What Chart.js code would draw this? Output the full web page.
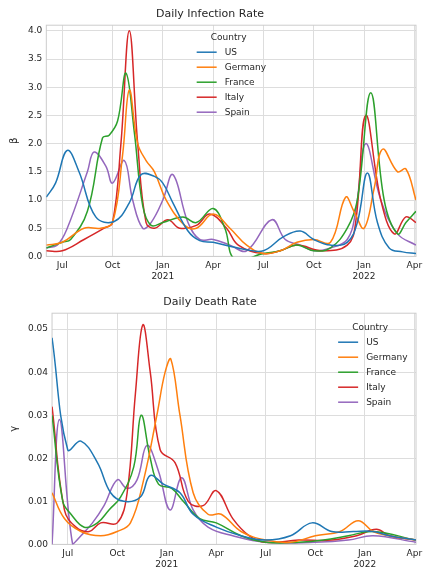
<!DOCTYPE html>
<html><head><meta charset="utf-8">
<script src="https://cdn.jsdelivr.net/npm/chart.js@4/dist/chart.umd.min.js"></script>
<style>body{margin:0;background:#fff}canvas{display:block}</style>
</head><body>
<div style="width:432px;height:288px"><canvas id="c1"></canvas></div>
<div style="width:432px;height:288px"><canvas id="c2"></canvas></div>
<script>
// x in months since Jan 2020 (6 = Jul 2020)
const countries = ['US','Germany','France','Italy','Spain'];
const colors = ['#1f77b4','#ff7f0e','#2ca02c','#d62728','#9467bd'];
const tickLabels = {6:'Jul',9:'Oct',12:['Jan','2021'],15:'Apr',18:'Jul',21:'Oct',24:['Jan','2022'],27:'Apr'};

const betaUS = [[5.05,1.05],[5.6,1.3],[6.3,1.88],[7.0,1.5],[8.0,0.7],[9.1,0.62],[10.0,0.95],[10.7,1.45],[11.5,1.42],[12.0,1.3],[12.6,0.95],[13.5,0.45],[14.2,0.28],[15,0.25],[16,0.18],[17,0.12],[18,0.1],[19.2,0.35],[20.2,0.45],[21,0.3],[22,0.2],[23,0.25],[23.6,0.6],[24.2,1.48],[24.8,0.6],[25.5,0.15],[26.3,0.08],[27.1,0.05]];
const betaDE = [[5.05,0.2],[6,0.25],[7.3,0.5],[8.3,0.5],[9.0,0.6],[9.6,1.8],[10.0,2.95],[10.5,2.0],[11.0,1.7],[11.5,1.5],[12.2,1.0],[13.3,0.55],[14,0.5],[15,0.75],[16,0.5],[17,0.2],[18,0.05],[19,0.1],[20,0.25],[21,0.3],[22,0.25],[22.9,1.05],[23.4,0.8],[24,0.5],[24.6,1.2],[25.1,1.9],[26,1.5],[26.5,1.55],[27.1,1.0]];
const betaFR = [[5.05,0.15],[6,0.25],[6.5,0.3],[7.5,0.8],[8.4,2.1],[8.8,2.15],[9.3,2.4],[9.8,3.25],[10.3,2.2],[10.8,0.9],[11.3,0.55],[12.0,0.6],[13.2,0.7],[14,0.6],[15,0.85],[15.7,0.5],[16.3,-0.05],[18,0.05],[19,0.1],[20,0.2],[21,0.1],[22,0.15],[23,0.5],[23.6,1.0],[24.4,2.9],[25.2,1.0],[26,0.4],[26.5,0.6],[27.1,0.8]];
const betaIT = [[5.05,0.1],[6,0.1],[7.3,0.3],[8.5,0.5],[9.0,0.6],[9.5,2.0],[10.0,4.0],[10.5,2.0],[11.0,0.6],[11.5,0.5],[12.3,0.65],[13,0.5],[14,0.55],[14.8,0.75],[15.8,0.5],[16.5,0.2],[18,0.05],[19,0.1],[20,0.2],[21.5,0.1],[23,0.2],[23.5,0.6],[24.1,2.5],[25,1.0],[25.8,0.4],[26.5,0.7],[27.1,0.6]];
const betaES = [[5.05,0.15],[5.7,0.2],[6.3,0.5],[7.5,1.5],[7.9,1.85],[8.6,1.6],[9.0,1.3],[9.7,1.7],[10.2,1.0],[10.8,0.5],[11.3,0.6],[12.0,1.0],[12.6,1.45],[13.5,0.6],[14.2,0.3],[15,0.3],[16,0.2],[17,0.1],[18.5,0.65],[19.3,0.3],[20.2,0.2],[21,0.1],[22,0.15],[23,0.3],[23.5,0.8],[24.1,2.0],[25,1.0],[26,0.4],[27.1,0.2]];

const gammaUS = [[5.05,0.048],[6.0,0.022],[6.8,0.024],[7.8,0.019],[8.6,0.012],[9.4,0.010],[10.4,0.011],[11.0,0.016],[11.8,0.014],[12.8,0.012],[13.6,0.007],[15,0.004],[16.5,0.002],[18,0.001],[19.5,0.002],[20.8,0.005],[22,0.003],[23.3,0.003],[24.5,0.003],[25.5,0.002],[27.1,0.001]];
const gammaDE = [[5.05,0.012],[5.8,0.006],[6.8,0.003],[8,0.002],[9,0.003],[9.8,0.005],[10.6,0.015],[11.4,0.030],[11.9,0.040],[12.25,0.043],[12.8,0.030],[13.6,0.012],[14.5,0.007],[15.3,0.007],[16.5,0.003],[18,0.001],[19.5,0.0005],[21,0.002],[22.5,0.003],[23.6,0.0055],[24.5,0.003],[25.5,0.002],[27.1,0.001]];
const gammaFR = [[5.05,0.030],[5.7,0.010],[6.2,0.007],[7,0.004],[7.8,0.005],[8.5,0.008],[9.2,0.011],[10,0.018],[10.45,0.030],[11.0,0.020],[11.5,0.014],[12.3,0.013],[13,0.010],[14,0.006],[15,0.005],[16.5,0.002],[18,0.0005],[20,0.0005],[21.5,0.001],[23,0.002],[24.5,0.003],[27.1,0.001]];
const gammaIT = [[5.05,0.032],[5.8,0.008],[6.5,0.004],[7.3,0.003],[8,0.005],[9,0.005],[9.6,0.012],[10.1,0.035],[10.55,0.051],[11.0,0.040],[11.6,0.022],[12.5,0.019],[13.3,0.010],[14.2,0.009],[15,0.0125],[16,0.006],[17,0.002],[18,0.0005],[20,0.001],[22,0.001],[23.5,0.002],[24.7,0.0035],[25.5,0.002],[27.1,0.001]];
const gammaES = [[5.05,0.0],[5.5,0.029],[6.3,0.0],[6.8,0.002],[7.5,0.005],[8.2,0.009],[9.0,0.015],[9.6,0.013],[10.2,0.015],[10.8,0.023],[11.5,0.017],[12.2,0.008],[12.9,0.0155],[13.6,0.008],[14.5,0.004],[16,0.002],[18,0.0005],[21,0.0005],[23,0.001],[24.5,0.002],[27.1,0.0005]];

const FONT = 'DejaVu Sans';
function ds(arrs){return arrs.map((a,i)=>({label:countries[i],data:a.map(p=>({x:p[0],y:p[1]})),borderColor:colors[i],backgroundColor:colors[i],borderWidth:1.5,pointRadius:0,tension:0.4,fill:false}));}

function legendPlugin(lx,ly){return {id:'lg',afterDatasetsDraw(ch){const c=ch.ctx,a=ch.chartArea;c.save();
 c.font='9px '+FONT;c.fillStyle='#262626';c.textAlign='center';c.textBaseline='middle';
 const x0=a.left+lx*(a.right-a.left), y0=a.top+ly;
 c.fillText('Country',x0+16,y0);
 countries.forEach((n,i)=>{const y=y0+15*(i+1);c.strokeStyle=colors[i];c.lineWidth=1.5;c.beginPath();c.moveTo(x0-16,y);c.lineTo(x0+4,y);c.stroke();c.textAlign='left';c.fillText(n,x0+12,y);});
 c.restore();}};}

function border(){return {id:'bd',beforeDatasetsDraw(ch){const c=ch.ctx,a=ch.chartArea;c.save();c.strokeStyle='#cccccc';c.lineWidth=1;c.strokeRect(a.left,a.top,a.right-a.left,a.bottom-a.top);c.restore();}};}

function make(id,title,arrs,ymax,yticks,yfmt,ytitle,lx,ly){
 new Chart(document.getElementById(id),{type:'line',data:{datasets:ds(arrs)},
 options:{responsive:true,maintainAspectRatio:false,animation:false,
 layout:{padding:{left:4,right:16,top:2,bottom:2}},
 plugins:{legend:{display:false},tooltip:{enabled:false},title:{display:true,text:title,color:'#262626',font:{family:FONT,size:11,weight:'normal'},padding:{top:6,bottom:4}}},
 scales:{x:{type:'linear',min:5.05,max:27.1,grid:{color:'#dddddd',drawTicks:false},border:{display:false},
   afterBuildTicks(ax){ax.ticks=[6,9,12,15,18,21,24,27].map(v=>({value:v}));},
   ticks:{autoSkip:false,maxRotation:0,color:'#262626',font:{family:FONT,size:9},padding:4,callback:v=>tickLabels[v]}},
  y:{min:0,max:ymax,grid:{color:'#dddddd',drawTicks:false},border:{display:false},
   afterBuildTicks(ax){ax.ticks=yticks.map(v=>({value:v}));},
   title:{display:true,text:ytitle,color:'#262626',font:{family:FONT,size:10}},
   ticks:{autoSkip:false,color:'#262626',font:{family:FONT,size:9},padding:4,callback:yfmt}}}},
 plugins:[border(),legendPlugin(lx,ly)]});
}
make('c1','Daily Infection Rate',[betaUS,betaDE,betaFR,betaIT,betaES],4.1,[0,0.5,1,1.5,2,2.5,3,3.5,4],v=>v.toFixed(1),'β',0.45,12);
make('c2','Daily Death Rate',[gammaUS,gammaDE,gammaFR,gammaIT,gammaES],0.0537,[0,0.01,0.02,0.03,0.04,0.05],v=>v.toFixed(2),'γ',0.83,14);
</script>
</body></html>
